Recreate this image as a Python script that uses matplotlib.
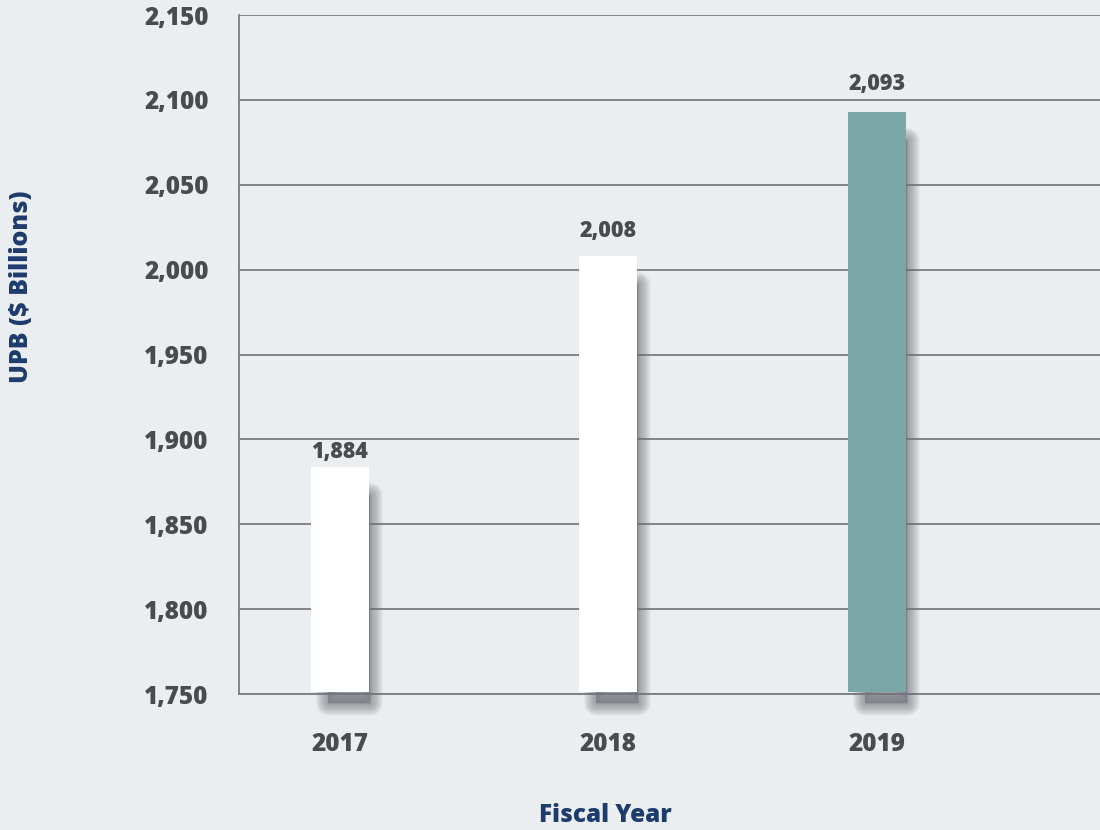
import matplotlib
matplotlib.use("Agg")
import matplotlib.pyplot as plt
import matplotlib.transforms as mtransforms
import numpy as np

years = ["2017", "2018", "2019"]
upb = [1884, 2008, 2093]
bar_colors = ["#ffffff", "#ffffff", "#7ba8a6"]
yticks = [1750, 1800, 1850, 1900, 1950, 2000, 2050, 2100, 2150]

# style constants
label_pad_px = [3, 13, 16]
FONT = ["Open Sans", "DejaVu Sans"]
NAVY = "#1d3b6d"
GREY_TXT = "#4a4b4d"

plt.rcParams['font.family'] = FONT
fig = plt.figure(figsize=(11, 8.3), dpi=100)
fig.patch.set_facecolor("#eaeef0")
ax = fig.add_axes([239/1100, 136/830, 1 - 239/1100, (694-15)/830])
ax.set_facecolor("none")

x = np.arange(len(years))
base = 1750
lift = 1.2
heights = [v - base - lift for v in upb]
width = 0.216

# shadows: layered offset bars to fake a blur
off = mtransforms.ScaledTranslation(9/100, -11/100, fig.dpi_scale_trans)
n_layers = 20
for i in range(n_layers):
    lw = 0.9 * (n_layers - i)
    bars_s = ax.bar(x, [h - 10 for h in heights], width=width * 0.72,
                    bottom=base + lift,
                    color="#74787e", edgecolor="#74787e", linewidth=lw,
                    alpha=0.042, zorder=2)
    for p in bars_s:
        p.set_transform(ax.transData + off)
        p.set_clip_on(False)
        p.set_joinstyle("round")

bars = ax.bar(x, heights, width=width, bottom=base + lift, color=bar_colors,
              linewidth=0, zorder=3)

for xi, v, pad in zip(x, upb, label_pad_px):
    ax.annotate(f"{v:,}", (xi, v), xytext=(0, pad), textcoords="offset pixels",
                ha="center", va="bottom", fontsize=15.5, fontweight="heavy",
                color=GREY_TXT, zorder=4)

ax.set_ylim(1750, 2150)
ax.set_xlim(-0.375, 2.831)
ax.set_yticks(yticks)
ax.set_yticklabels([f"{t:,}" for t in yticks])
ax.set_xticks(x)
ax.set_xticklabels(years)
ax.yaxis.grid(True, color="#7b7d80", linewidth=1.3, zorder=1)
ax.set_axisbelow(True)
for s in ["top", "right"]:
    ax.spines[s].set_visible(False)
for s in ["left", "bottom"]:
    ax.spines[s].set_color("#7b7d80")
    ax.spines[s].set_linewidth(1.3)
    ax.spines[s].set_zorder(1)
ax.tick_params(axis="both", length=0, labelsize=17.5, labelcolor=GREY_TXT)
ax.tick_params(axis="y", pad=22)
ax.tick_params(axis="x", pad=27)
for lab in ax.get_xticklabels() + ax.get_yticklabels():
    lab.set_fontweight("heavy")

fig.text(605/1100, 1 - 815/830, "Fiscal Year", ha="center", va="center",
         fontsize=17.5, fontweight="heavy", color=NAVY)
fig.text(22/1100, 1 - 287/830, "UPB ($ Billions)", ha="center", va="center",
         rotation=90, fontsize=18, fontweight="heavy", color=NAVY)

fig.savefig("out.png", dpi=100, facecolor=fig.get_facecolor())
